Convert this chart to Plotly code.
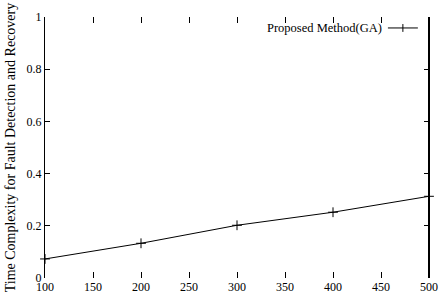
import plotly.graph_objects as go

x_vals = [100, 200, 300, 400, 500]
y_vals = [0.073, 0.133, 0.202, 0.252, 0.313]
series_name = "Proposed Method(GA)"
x_ticks = [100, 150, 200, 250, 300, 350, 400, 450, 500]
y_ticks = [0, 0.2, 0.4, 0.6, 0.8, 1]
y_tick_labels = ["0", "0.2", "0.4", "0.6", "0.8", "1"]
y_title = "Time Complexity for Fault Detection and Recovery"

FONT = "Liberation Serif"

fig = go.Figure()
fig.add_trace(go.Scatter(
    x=x_vals, y=y_vals, mode="lines+markers", name=series_name,
    line=dict(color="black", width=1),
    marker=dict(symbol="cross-thin", size=7, line=dict(color="black", width=1)),
    cliponaxis=False, showlegend=False,
))

fig.update_layout(
    width=440, height=294,
    margin=dict(l=45, r=11, t=17, b=16),
    paper_bgcolor="white", plot_bgcolor="white",
    font=dict(family=FONT, size=12, color="black"),
    showlegend=False,
    xaxis=dict(
        range=[100, 500], tickvals=x_ticks, ticks="inside", ticklen=6,
        tickcolor="black", showline=False, mirror="ticks", showgrid=False,
        zeroline=False, tickfont=dict(family=FONT, size=12),
        automargin=False, ticklabelstandoff=0,
    ),
    yaxis=dict(
        range=[0, 1], tickvals=y_ticks, ticktext=y_tick_labels, ticks="inside",
        ticklen=5, tickcolor="black", showline=True, linecolor="black",
        linewidth=1, mirror="ticks", showgrid=False, zeroline=False,
        tickfont=dict(family=FONT, size=12), automargin=False,
    ),
)

# y-axis title placed like gnuplot's
fig.add_annotation(xref="paper", yref="paper", x=-0.089, y=0.5, xanchor="center",
                   yanchor="middle", text=y_title, textangle=-90, showarrow=False,
                   font=dict(family=FONT, size=14, color="black"))

# thick right border
fig.add_shape(type="line", xref="paper", yref="paper", x0=1, x1=1, y0=0, y1=1,
              line=dict(color="black", width=2))

# gnuplot-style legend: text on left, sample on right
fig.add_annotation(xref="paper", yref="paper", x=0.884, y=0.958, xanchor="right",
                   yanchor="middle", text=series_name, showarrow=False,
                   font=dict(family=FONT, size=12.5, color="black"))
fig.add_shape(type="line", xref="paper", yref="paper", x0=0.893, x1=0.971,
              y0=0.958, y1=0.958, line=dict(color="black", width=1))
fig.add_shape(type="line", xref="paper", yref="paper", x0=0.932, x1=0.932,
              y0=0.943, y1=0.973, line=dict(color="black", width=1))

fig.write_html("out.html", config={"displayModeBar": False},
               post_script="document.body.style.margin='0px';document.body.style.overflow='hidden';")
